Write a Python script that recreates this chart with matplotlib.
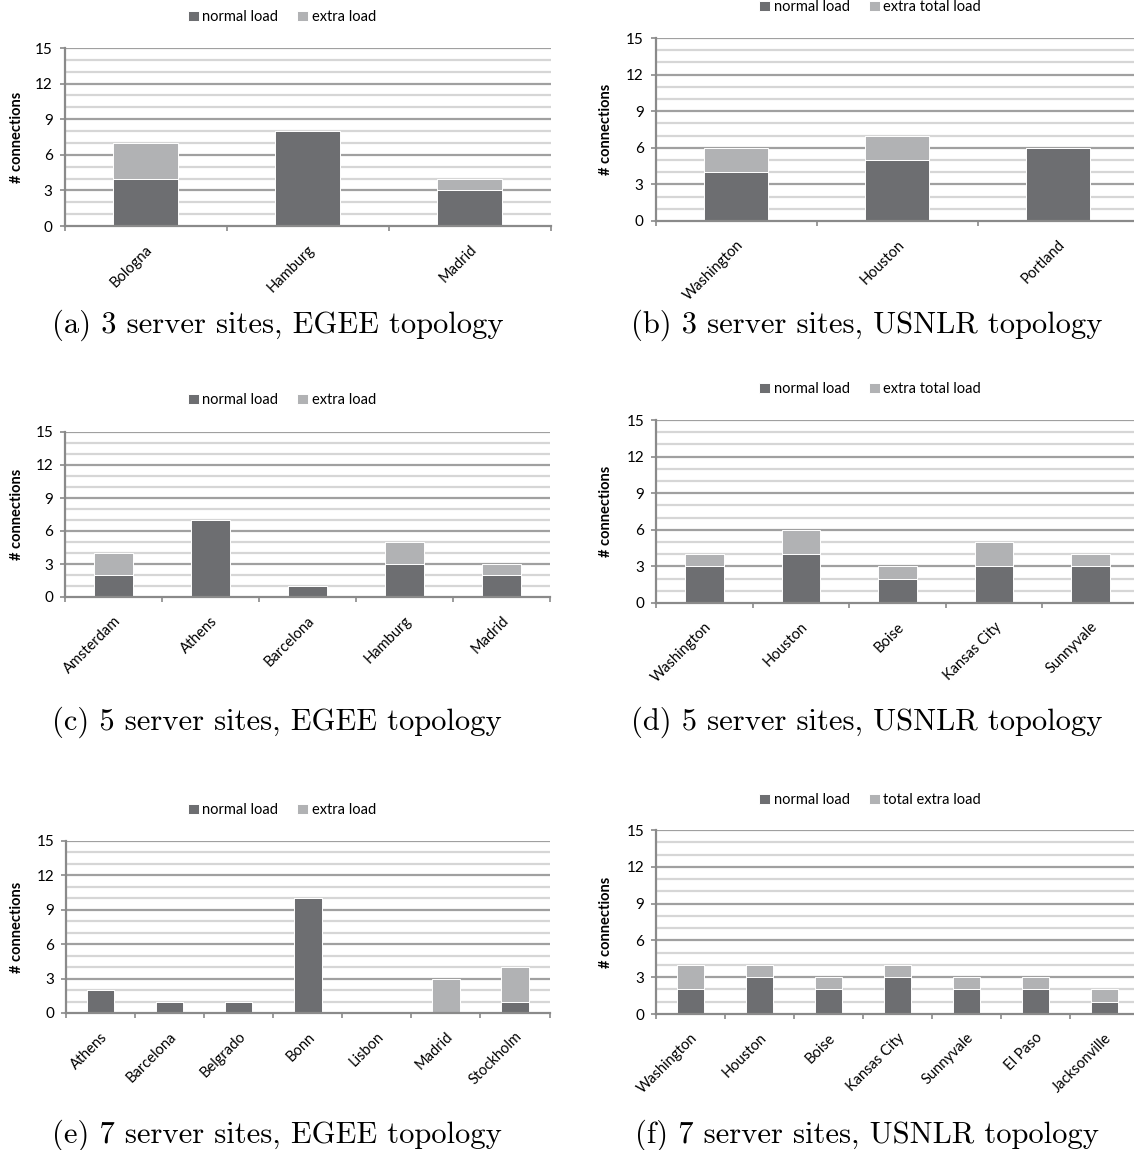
import matplotlib
matplotlib.use("Agg")
import matplotlib.pyplot as plt
import numpy as np

W, H = 1134, 1150
DPI = 100

# ---------------- data ----------------
a_sites = ["Bologna", "Hamburg", "Madrid"]
a_normal = [4, 8, 3]
a_extra = [3, 0, 1]

b_sites = ["Washington", "Houston", "Portland"]
b_normal = [4, 5, 6]
b_extra = [2, 2, 0]

c_sites = ["Amsterdam", "Athens", "Barcelona", "Hamburg", "Madrid"]
c_normal = [2, 7, 1, 3, 2]
c_extra = [2, 0, 0, 2, 1]

d_sites = ["Washington", "Houston", "Boise", "Kansas City", "Sunnyvale"]
d_normal = [3, 4, 2, 3, 3]
d_extra = [1, 2, 1, 2, 1]

e_sites = ["Athens", "Barcelona", "Belgrado", "Bonn", "Lisbon", "Madrid", "Stockholm"]
e_normal = [2, 1, 1, 10, 0, 0, 1]
e_extra = [0, 0, 0, 0, 0, 3, 3]

f_sites = ["Washington", "Houston", "Boise", "Kansas City", "Sunnyvale", "El Paso", "Jacksonville"]
f_normal = [2, 3, 2, 3, 2, 2, 1]
f_extra = [2, 1, 1, 1, 1, 1, 1]

y_ticks = [0, 3, 6, 9, 12, 15]

captions = ["(a) 3 server sites, EGEE topology",
            "(b) 3 server sites, USNLR topology",
            "(c) 5 server sites, EGEE topology",
            "(d) 5 server sites, USNLR topology",
            "(e) 7 server sites, EGEE topology",
            "(f) 7 server sites, USNLR topology"]
legend_labels = [("normal load", "extra load"),
                 ("normal load", "extra total load"),
                 ("normal load", "extra load"),
                 ("normal load", "extra total load"),
                 ("normal load", "extra load"),
                 ("normal load", "total extra load")]

panels = [(a_sites, a_normal, a_extra), (b_sites, b_normal, b_extra),
          (c_sites, c_normal, c_extra), (d_sites, d_normal, d_extra),
          (e_sites, e_normal, e_extra), (f_sites, f_normal, f_extra)]

# ---------------- layout (pixels) ----------------
# left, right, top(15), bottom(0)
rects = [(64.5, 550.5, 48, 226), (655.5, 1138.5, 38, 221),
         (65, 550, 432, 597), (656, 1139, 420, 603),
         (66, 549.5, 841, 1013), (656, 1139, 830, 1014)]
legend_pos = [(282, 17), (870, 7), (282, 400), (870, 389), (282, 810), (870, 800)]
caption_pos = [(278, 325), (867, 325), (277, 722), (867, 722), (277, 1135), (867, 1135)]
ylabel_x = [17, 606, 17, 606, 17, 606]

C_NORMAL = "#6d6e71"
C_EXTRA = "#b1b2b4"
C_MAJOR = "#a0a0a0"
C_MINOR = "#d6d6d6"
C_SPINE = "#8a8a8a"
SANS = ["Lato", "DejaVu Sans"]

fig = plt.figure(figsize=(W / DPI, H / DPI), dpi=DPI)
fig.patch.set_facecolor("white")

for i, ((sites, normal, extra), (l, r, t, b)) in enumerate(zip(panels, rects)):
    ax = fig.add_axes([l / W, 1 - b / H, (r - l) / W, (b - t) / H])
    n = len(sites)
    x = np.arange(n)
    ax.set_xlim(-0.5, n - 0.5)
    ax.set_ylim(0, 15)
    # gridlines
    for v in range(1, 16):
        major = (v % 3 == 0)
        ax.axhline(v, color=C_MAJOR if major else C_MINOR, lw=1.6, zorder=1)
    h1 = ax.bar(x, normal, width=0.4, color=C_NORMAL, edgecolor="white",
                linewidth=0.7, zorder=3)
    h2 = ax.bar(x, extra, width=0.4, bottom=normal, color=C_EXTRA,
                edgecolor="white", linewidth=0.7, zorder=3)
    for s in ["top", "right"]:
        ax.spines[s].set_visible(False)
    for s in ["left", "bottom"]:
        ax.spines[s].set_color(C_SPINE)
        ax.spines[s].set_linewidth(1.6)
        ax.spines[s].set_zorder(4)
    ax.set_yticks(y_ticks)
    ax.set_yticklabels([str(v) for v in y_ticks], family=SANS, fontsize=11)
    ax.tick_params(axis="y", length=3.5, width=1.2, color=C_SPINE, pad=5)
    ax.set_xticks(np.arange(n + 1) - 0.5)
    ax.set_xticklabels([])
    ax.tick_params(axis="x", length=3.5, width=1.2, color=C_SPINE)
    ax.set_xticks(x, minor=True)
    ax.set_xticklabels(sites, minor=True, rotation=45, ha="right",
                       rotation_mode="anchor", family=SANS, fontsize=10.5)
    ax.tick_params(axis="x", which="minor", length=0, pad=12)
    ax.set_facecolor("none")

    fig.text(ylabel_x[i] / W, 1 - (t + b) / 2 / H, "# connections", rotation=90,
             ha="center", va="center", family=SANS, fontsize=10.5, fontweight="bold")

    lx, ly = legend_pos[i]
    fig.legend([h1, h2], legend_labels[i], loc="center",
               bbox_to_anchor=(lx / W, 1 - ly / H), ncol=2, frameon=False,
               prop={"family": SANS, "size": 10.5}, handlelength=0.75,
               handleheight=0.75, handletextpad=0.25, columnspacing=1.3,
               borderpad=0, borderaxespad=0)

    cx, cy = caption_pos[i]
    fig.text(cx / W, 1 - cy / H, captions[i], ha="center", va="center",
             family=["cmr10", "DejaVu Serif"], fontsize=22)

fig.savefig("out.png", dpi=DPI)
